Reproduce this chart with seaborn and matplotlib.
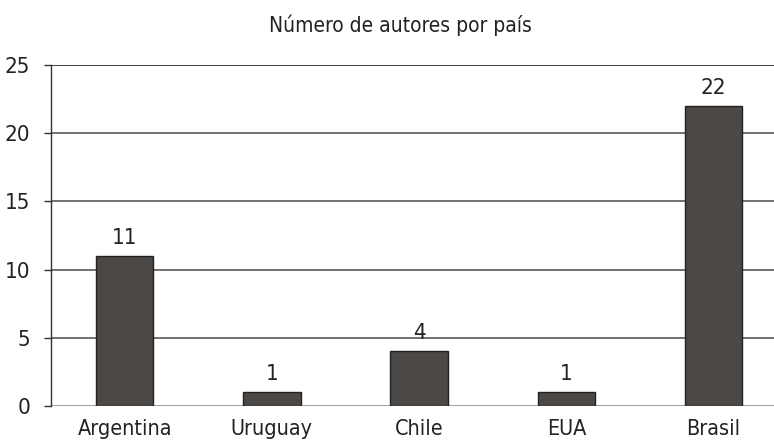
import matplotlib
matplotlib.use("Agg")
import matplotlib.pyplot as plt
import seaborn as sns
import pandas as pd

categories = ["Argentina", "Uruguay", "Chile", "EUA", "Brasil"]
values = [11, 1, 4, 1, 22]
yticks = [0, 5, 10, 15, 20, 25]
title = "Número de autores por país"

sns.set_theme(style="white")
plt.rcParams['font.family'] = ['DejaVu Sans']
plt.rcParams['font.stretch'] = 'condensed'

df = pd.DataFrame({"pais": categories, "n": values})

fig = plt.figure(figsize=(7.74, 4.4), dpi=100)
ax = fig.add_axes([51/774, 1-406/440, 1-51/774, (406-65)/440])

sns.barplot(data=df, x="pais", y="n", ax=ax, color="#4b4845", width=0.39,
            edgecolor="#222222", linewidth=1.0, saturation=1, zorder=3)

ax.set_ylim(0, 25)
ax.set_xlim(-0.5, 4.41)
ax.set_yticks(yticks)
for t in yticks:
    ax.axhline(t, color="#333333" if t == 25 else ("#999999" if t == 0 else "#666666"),
               linewidth=1.3, zorder=1)
for s in ["top", "right", "bottom"]:
    ax.spines[s].set_visible(False)
ax.spines["left"].set_color("#333333")
ax.spines["left"].set_linewidth(1.0)
ax.tick_params(axis="y", length=5, width=1, color="#333333", left=True, labelsize=16, pad=10, labelcolor="#222222")
ax.tick_params(axis="x", length=0, labelsize=15.5, pad=9, labelcolor="#222222")
ax.set_xlabel("")
ax.set_ylabel("")

for i, v in enumerate(values):
    ax.text(i, v + 0.6, str(v), ha="center", va="bottom", fontsize=16, color="#222222")

fig.text(0.517, 1-25/440, title, ha="center", va="center", fontsize=15, color="#222222")

fig.savefig("out.png", dpi=100)
